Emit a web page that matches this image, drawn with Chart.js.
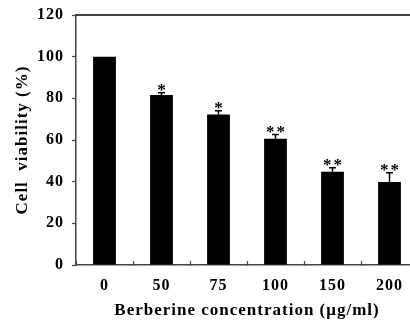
<!DOCTYPE html>
<html>
<head>
<meta charset="utf-8">
<script src="https://cdn.jsdelivr.net/npm/chart.js@4"></script>
<style>
  html, body { margin: 0; padding: 0; overflow: hidden; background: #fff; }
  #wrap { width: 418px; height: 322px; }
</style>
</head>
<body>
<div id="wrap"><canvas id="viabilityChart" width="418" height="322"></canvas></div>
<script>
let categories = ['0', '50', '75', '100', '150', '200']; // ug/ml
let viability = [100, 81.6, 72.3, 60.6, 44.8, 39.8];    // %
let errors = [0, 1.1, 1.8, 2.0, 1.9, 4.5];
let stars = ['', '*', '*', '**', '**', '**'];
let yTicks = [0, 20, 40, 60, 80, 100, 120];

let serif = "'Liberation Serif', 'Times New Roman', serif";

// error bars + significance marks
let errorBars = {
    id: 'errorBars',
    afterDatasetsDraw(chart) {
        let ctx = chart.ctx;
        let y = chart.scales.y;
        let meta = chart.getDatasetMeta(0);
        ctx.save();
        ctx.strokeStyle = '#000';
        ctx.lineWidth = 1.5;
        meta.data.forEach((bar, i) => {
            let top = y.getPixelForValue(viability[i] + errors[i]);
            if (errors[i] > 0) {
                ctx.beginPath();
                ctx.moveTo(bar.x, bar.y);
                ctx.lineTo(bar.x, top);
                ctx.moveTo(bar.x - 3.5, top);
                ctx.lineTo(bar.x + 3.5, top);
                ctx.stroke();
            }
            if (stars[i]) {
                ctx.fillStyle = '#000';
                ctx.font = 'bold 17px ' + serif;
                ctx.letterSpacing = '2px';
                ctx.textAlign = 'center';
                ctx.textBaseline = 'alphabetic';
                ctx.fillText(stars[i], bar.x + 1, top + 2);
            }
        });
        ctx.restore();
    }
};

// top frame line, plus wider letter spacing for axis text
let frameAndText = {
    id: 'frameAndText',
    beforeDraw(chart) {
        chart.ctx.letterSpacing = '1px';
    },
    afterDraw(chart) {
        let a = chart.chartArea;
        let ctx = chart.ctx;
        ctx.letterSpacing = '0px';
        ctx.save();
        ctx.strokeStyle = '#444';
        ctx.lineWidth = 2;
        ctx.beginPath();
        ctx.moveTo(a.left, a.top);
        ctx.lineTo(a.right, a.top);
        ctx.stroke();
        ctx.restore();
    }
};

let myChart = document.getElementById('viabilityChart').getContext('2d');

let viabilityChart = new Chart(myChart, {
    type: 'bar',
    data: {
        labels: categories,
        datasets: [{
            label: 'Cell viability',
            data: viability,
            backgroundColor: '#000',
            borderWidth: 0,
            categoryPercentage: 1,
            barPercentage: 0.4
        }]
    },
    options: {
        responsive: false,
        animation: false,
        layout: { padding: { top: 15, right: 0, left: 0, bottom: 0 } },
        plugins: {
            legend: { display: false },
            tooltip: { enabled: false }
        },
        scales: {
            x: {
                grid: {
                    display: true,
                    drawOnChartArea: false,
                    offset: true,
                    tickLength: -4,
                    tickWidth: 1.2,
                    tickColor: '#444'
                },
                border: { color: '#444', width: 1.5 },
                ticks: {
                    color: '#000',
                    padding: 15,
                    font: { family: serif, size: 16, weight: 'bold' }
                },
                title: {
                    display: true,
                    text: 'Berberine concentration (μg/ml)',
                    color: '#000',
                    padding: { top: 0, bottom: 1 },
                    font: { family: serif, size: 17, weight: 'bold' }
                },
                afterFit(scale) { scale.height = 57; }
            },
            y: {
                min: 0,
                max: 120,
                afterBuildTicks(scale) { scale.ticks = yTicks.map(v => ({ value: v })); },
                grid: {
                    display: true,
                    drawOnChartArea: false,
                    tickLength: 4,
                    tickWidth: 1.2,
                    tickColor: '#444'
                },
                border: { color: '#444', width: 1.5 },
                ticks: {
                    color: '#000',
                    padding: 8,
                    font: { family: serif, size: 16, weight: 'bold' }
                },
                title: {
                    display: true,
                    text: 'Cell  viability (%)',
                    color: '#000',
                    padding: { top: 12, bottom: 0 },
                    font: { family: serif, size: 17, weight: 'bold' }
                },
                afterFit(scale) {
                    scale.width = 76;
                    scale.paddingTop = 0;
                    scale.paddingBottom = 0;
                }
            }
        }
    },
    plugins: [errorBars, frameAndText]
});
</script>
</body>
</html>
